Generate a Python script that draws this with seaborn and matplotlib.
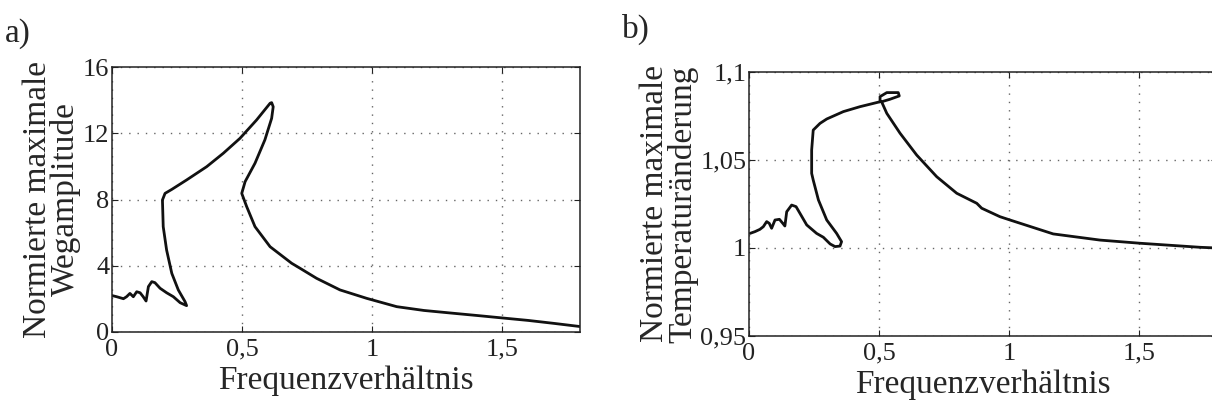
import matplotlib
matplotlib.use("Agg")
import matplotlib.pyplot as plt
import seaborn as sns

# data (continuation paths, in drawing order)
weg_freq = [0.0, 0.018, 0.044, 0.056, 0.069, 0.082, 0.095, 0.108, 0.12, 0.131,
            0.14, 0.153, 0.165, 0.185, 0.21, 0.236, 0.262, 0.287, 0.281, 0.255,
            0.23, 0.21, 0.197, 0.194, 0.204, 0.23, 0.287, 0.364, 0.428, 0.492,
            0.556, 0.608, 0.614, 0.62, 0.614, 0.588, 0.55, 0.512, 0.499, 0.518,
            0.55, 0.608, 0.691, 0.723, 0.787, 0.877, 0.98, 1.095, 1.2, 1.3,
            1.415, 1.5, 1.6, 1.7, 1.8]
weg_amp = [2.2, 2.13, 2.01, 2.13, 2.33, 2.13, 2.43, 2.37, 2.13, 1.87,
           2.74, 3.04, 2.98, 2.64, 2.37, 2.13, 1.77, 1.59, 1.83, 2.54,
           3.54, 4.95, 6.36, 7.97, 8.37, 8.61, 9.18, 9.98, 10.79, 11.69,
           12.8, 13.81, 13.85, 13.6, 12.9, 11.6, 10.19, 9.08, 8.37, 7.57,
           6.36, 5.15, 4.15, 3.85, 3.24, 2.54, 2.03, 1.53, 1.3, 1.15,
           0.98, 0.85, 0.7, 0.52, 0.33]

temp_freq = [0.004, 0.023, 0.042, 0.055, 0.068, 0.078, 0.087, 0.1, 0.117, 0.13,
             0.138, 0.145, 0.164, 0.181, 0.196, 0.222, 0.26, 0.286, 0.312, 0.331,
             0.35, 0.356, 0.337, 0.299, 0.267, 0.247, 0.241, 0.241, 0.247, 0.273,
             0.299, 0.363, 0.427, 0.504, 0.504, 0.53, 0.574, 0.578, 0.542, 0.51,
             0.53, 0.581, 0.645, 0.722, 0.799, 0.876, 0.895, 0.965, 1.004, 1.17,
             1.35, 1.504, 1.735, 1.8]
temp_amp = [1.0083, 1.0093, 1.0106, 1.0121, 1.015, 1.014, 1.0112, 1.0159, 1.0163, 1.014,
            1.0125, 1.0206, 1.0244, 1.0235, 1.0197, 1.0131, 1.0083, 1.0061, 1.0023, 1.0008,
            1.0011, 1.0036, 1.0083, 1.0159, 1.0273, 1.0386, 1.0424, 1.0557, 1.067, 1.0708,
            1.0733, 1.0775, 1.0803, 1.0831, 1.086, 1.0883, 1.0883, 1.0864, 1.0845, 1.0831,
            1.0765, 1.0652, 1.0528, 1.0405, 1.0311, 1.0254, 1.0226, 1.0178, 1.0159, 1.008,
            1.0045, 1.0027, 1.0004, 1.0]

x_ticks = [0, 0.5, 1, 1.5]
x_labels = ["0", "0,5", "1", "1,5"]
weg_ticks = [0, 4, 8, 12, 16]
weg_labels = ["0", "4", "8", "12", "16"]
temp_ticks = [0.95, 1.0, 1.05, 1.1]
temp_labels = ["0,95", "1", "1,05", "1,1"]

sns.set_style("ticks")
plt.rcParams['font.family'] = ['Liberation Serif', 'DejaVu Serif']

fig = plt.figure(figsize=(12.12, 4.05), dpi=100)
ax_a = fig.add_axes([112 / 1212, 73 / 405, 468 / 1212, 265 / 405])
ax_b = fig.add_axes([749 / 1212, 69 / 405, 468 / 1212, 264 / 405])


def style_axes(ax, yticks, ylabels, ylim, ylabel):
    ax.set_xlim(0, 1.8)
    ax.set_ylim(*ylim)
    ax.set_xticks(x_ticks)
    ax.set_xticklabels(x_labels)
    ax.set_yticks(yticks)
    ax.set_yticklabels(ylabels)
    ax.grid(True, linestyle=(0, (1, 5)), color="#666666", linewidth=1.0)
    ax.tick_params(direction="in", top=True, right=True, length=4, width=0.8,
                   labelsize=19, colors="#222222")
    ax.tick_params(axis="x", pad=5)
    ax.tick_params(axis="y", pad=2)
    for s in ax.spines.values():
        s.set_linewidth(1.1)
        s.set_color("#222222")
    ax.set_xlabel("Frequenzverhältnis", fontsize=24, labelpad=3)
    ax.set_ylabel(ylabel, fontsize=24, linespacing=0.9, labelpad=1)


sns.lineplot(x=weg_freq, y=weg_amp, sort=False, estimator=None, color="#111111",
             linewidth=2.0, ax=ax_a)
style_axes(ax_a, weg_ticks, weg_labels, (0, 16), "Normierte maximale\nWegamplitude")

sns.lineplot(x=temp_freq, y=temp_amp, sort=False, estimator=None, color="#111111",
             linewidth=2.0, ax=ax_b)
style_axes(ax_b, temp_ticks, temp_labels, (0.95, 1.1),
           "Normierte maximale\nTemperaturänderung")

fig.text(5 / 1212, 1 - 42 / 405, "a)", fontsize=24)
fig.text(622 / 1212, 1 - 38 / 405, "b)", fontsize=24)

fig.savefig("out.png", dpi=100)
